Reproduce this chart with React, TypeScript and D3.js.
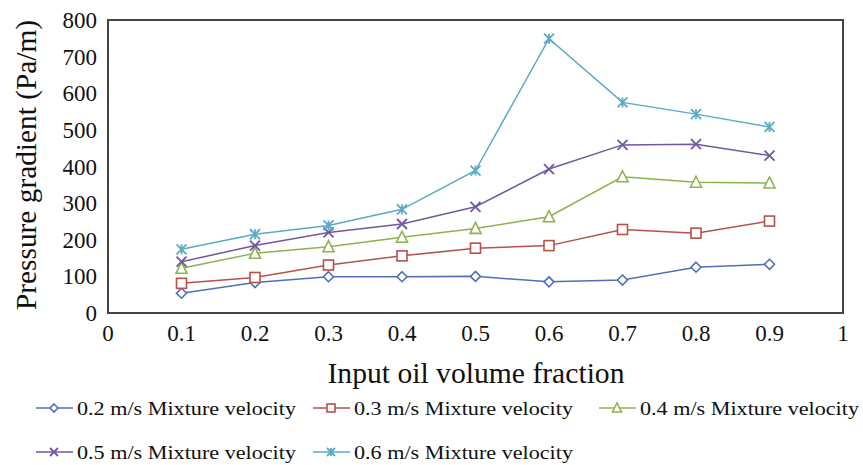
import * as d3 from "d3";

// x categories (input oil volume fraction)
const fractions = [0.1, 0.2, 0.3, 0.4, 0.5, 0.6, 0.7, 0.8, 0.9];

// pressure gradient (Pa/m) per mixture velocity
const v02 = [54, 83, 99, 99, 100, 85, 90, 125, 133];
const v03 = [81, 97, 131, 156, 177, 184, 228, 218, 251];
const v04 = [122, 163, 181, 207, 231, 263, 372, 357, 355];
const v05 = [140, 184, 220, 243, 290, 393, 459, 461, 430];
const v06 = [174, 215, 239, 283, 389, 749, 575, 543, 508];

const xTicks = [0, 0.1, 0.2, 0.3, 0.4, 0.5, 0.6, 0.7, 0.8, 0.9, 1];
const yTicks = [0, 100, 200, 300, 400, 500, 600, 700, 800];

const series = [
  { name: "0.2 m/s Mixture velocity", values: v02, color: "#4F6FB8", marker: "diamond" },
  { name: "0.3 m/s Mixture velocity", values: v03, color: "#B5504D", marker: "square" },
  { name: "0.4 m/s Mixture velocity", values: v04, color: "#8DB34E", marker: "triangle" },
  { name: "0.5 m/s Mixture velocity", values: v05, color: "#7358A0", marker: "cross" },
  { name: "0.6 m/s Mixture velocity", values: v06, color: "#5BAAC6", marker: "star" },
];

const W = 863;
const H = 465;
const plot = { left: 108, top: 20, right: 843, bottom: 313 };
const font = "'Liberation Serif', 'Times New Roman', serif";

function Marker({ kind, x, y, color, s = 5 }: { kind: string; x: number; y: number; color: string; s?: number }) {
  const common = { fill: "white", stroke: color, strokeWidth: 1.6 };
  if (kind === "diamond") {
    return <path d={`M${x},${y - s} L${x + s},${y} L${x},${y + s} L${x - s},${y} Z`} {...common} />;
  }
  if (kind === "square") {
    return <rect x={x - s} y={y - s} width={s * 2} height={s * 2} {...common} />;
  }
  if (kind === "triangle") {
    return <path d={`M${x},${y - s - 1} L${x + s + 0.5},${y + s} L${x - s - 0.5},${y + s} Z`} {...common} />;
  }
  if (kind === "cross") {
    return (
      <path
        d={`M${x - s},${y - s} L${x + s},${y + s} M${x - s},${y + s} L${x + s},${y - s}`}
        stroke={color}
        strokeWidth={1.8}
        fill="none"
      />
    );
  }
  return (
    <path
      d={`M${x - s},${y - s} L${x + s},${y + s} M${x - s},${y + s} L${x + s},${y - s} M${x},${y - s} L${x},${y + s}`}
      stroke={color}
      strokeWidth={1.8}
      fill="none"
    />
  );
}

export default function App() {
  const x = d3.scaleLinear().domain([0, 1]).range([plot.left, plot.right]);
  const y = d3.scaleLinear().domain([0, 800]).range([plot.bottom, plot.top]);
  const line = d3
    .line<number>()
    .x((_, i) => x(fractions[i]))
    .y((d) => y(d));

  const legendItems = [
    { s: series[0], lx: 36, ly: 408 },
    { s: series[1], lx: 313, ly: 408 },
    { s: series[2], lx: 599, ly: 408 },
    { s: series[3], lx: 36, ly: 452 },
    { s: series[4], lx: 313, ly: 452 },
  ];

  return (
    <svg
      width={W}
      height={H}
      style={{ position: "absolute", left: 0, top: 0, background: "white" }}
      fontFamily={font}
    >
      <rect
        x={plot.left}
        y={plot.top}
        width={plot.right - plot.left}
        height={plot.bottom - plot.top}
        fill="white"
        stroke="#444"
        strokeWidth={2}
      />
      {yTicks.map((t) => (
        <text key={t} x={97} y={y(t) + 8} textAnchor="end" fontSize={23} fill="#111">
          {t}
        </text>
      ))}
      {xTicks.map((t) => (
        <text key={t} x={x(t)} y={341} textAnchor="middle" fontSize={23} fill="#111">
          {t}
        </text>
      ))}
      <text
        transform={`translate(36,165) rotate(-90)`}
        textAnchor="middle"
        fontSize={29}
        fill="#111"
        textLength={290}
        lengthAdjust="spacingAndGlyphs"
      >
        Pressure gradient (Pa/m)
      </text>
      <text
        x={476}
        y={383}
        textAnchor="middle"
        fontSize={29}
        fill="#111"
        textLength={297}
        lengthAdjust="spacingAndGlyphs"
      >
        Input oil volume fraction
      </text>
      {series.map((s) => (
        <g key={s.name}>
          <path d={line(s.values) || ""} fill="none" stroke={s.color} strokeWidth={1.5} />
          {s.values.map((v, i) => (
            <Marker key={i} kind={s.marker} x={x(fractions[i])} y={y(v)} color={s.color} />
          ))}
        </g>
      ))}
      {legendItems.map(({ s, lx, ly }) => (
        <g key={s.name}>
          <line x1={lx} x2={lx + 37} y1={ly} y2={ly} stroke={s.color} strokeWidth={1.5} />
          <Marker kind={s.marker} x={lx + 18} y={ly} color={s.color} s={4} />
          <text
            x={lx + 41}
            y={ly + 7}
            fontSize={19}
            fill="#111"
            textLength={219}
            lengthAdjust="spacingAndGlyphs"
          >
            {s.name}
          </text>
        </g>
      ))}
    </svg>
  );
}
